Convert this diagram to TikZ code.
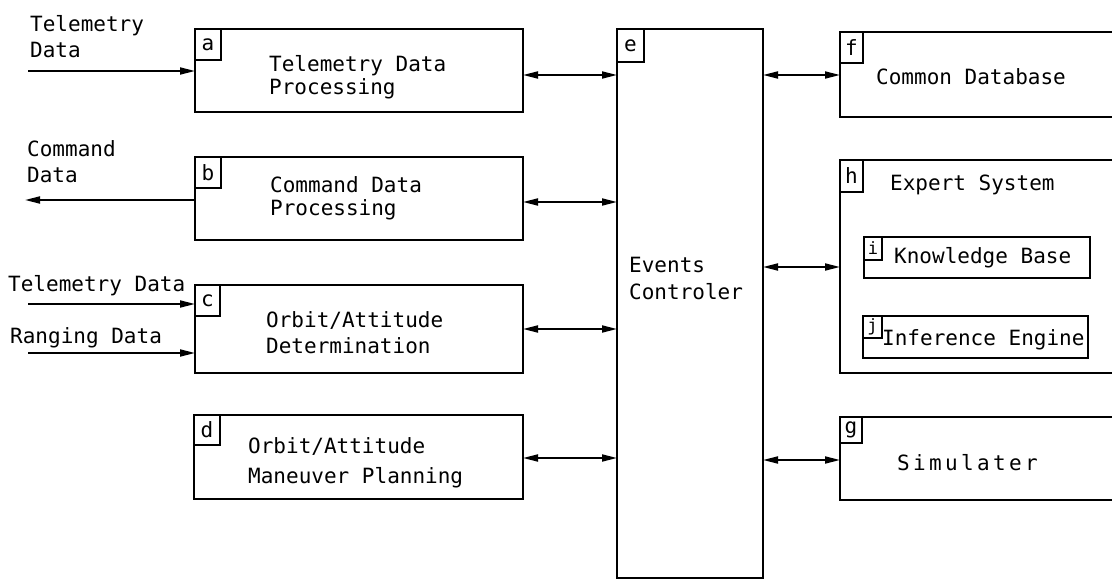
\documentclass[tikz,border=0pt]{standalone}
\usepackage{fontspec}
\newfontfamily\tw{DejaVu Sans Mono}
\newfontfamily\twsp[LetterSpace=16]{DejaVu Sans Mono}
\usetikzlibrary{arrows.meta}

\begin{document}
\begin{tikzpicture}[x=1pt,y=-1pt,
  box/.style={draw, line width=2.6pt, rectangle, anchor=north west,
    inner sep=0pt, outer sep=0pt},
  subbox/.style={box, line width=2.2pt},
  tag/.style={draw, line width=1.8pt, rectangle, anchor=north west,
    inner sep=0pt, outer sep=0pt, font=\tw\fontsize{21}{24}\selectfont},
  smalltag/.style={tag, line width=1.5pt, font=\tw\fontsize{17}{18}\selectfont},
  txt/.style={anchor=base west, inner sep=0pt, font=\tw\fontsize{21}{24}\selectfont},
  arr/.style={line width=1.8pt, -{Triangle[length=15pt,width=7pt]}},
  biarr/.style={line width=1.8pt,
    {Triangle[length=15pt,width=7pt]}-{Triangle[length=15pt,width=7pt]}}]

\useasboundingbox (0,0) rectangle (1112,580);
\clip (0,0) rectangle (1112,580);
\fill[white] (0,0) rectangle (1112,580);

% processing blocks on the left
\node[box, minimum width=328pt, minimum height=83pt] (a) at (195,29) {};
\node[tag, minimum width=26pt, minimum height=31pt] (la) at (195,29) {a};
\node[box, minimum width=328pt, minimum height=83pt] (b) at (195,157) {};
\node[tag, minimum width=26pt, minimum height=31pt] (lb) at (195,157) {b};
\node[box, minimum width=328pt, minimum height=88pt] (c) at (195,285) {};
\node[tag, minimum width=25pt, minimum height=31pt] (lc) at (195,285) {c};
\node[box, minimum width=329pt, minimum height=84pt] (d) at (194,415) {};
\node[tag, minimum width=26pt, minimum height=30pt] (ld) at (194,415) {d};

% central controller
\node[box, minimum width=146pt, minimum height=549pt] (e) at (617,29) {};
\node[tag, minimum width=27pt, minimum height=33pt] (le) at (617,29) {e};

% blocks on the right (open towards the page edge)
\node[box, minimum width=300pt, minimum height=85pt] (f) at (840,32) {};
\node[tag, minimum width=23pt, minimum height=31pt] (lf) at (840,32) {f};
\node[box, minimum width=300pt, minimum height=213pt] (h) at (840,160) {};
\node[tag, minimum width=23pt, minimum height=32pt] (lh) at (840,160) {h};
\node[subbox, minimum width=226pt, minimum height=41pt] (i) at (864,237) {};
\node[smalltag, minimum width=18pt, minimum height=23pt] (li) at (864,237) {i};
\node[subbox, minimum width=225pt, minimum height=42pt] (j) at (863,316) {};
\node[smalltag, minimum width=19pt, minimum height=22pt] (lj) at (863,316) {j};
\node[box, minimum width=300pt, minimum height=83pt] (g) at (840,417) {};
\node[tag, minimum width=22pt, minimum height=26pt] (lg) at (840,417) {g};

% texts
\node[txt] (tA1) at (30,32) {Telemetry};
\node[txt] (tA2) at (30,58) {Data};
\node[txt] (tB1) at (27,157) {Command};
\node[txt] (tB2) at (27,183) {Data};
\node[txt] (tC1) at (8,292) {Telemetry Data};
\node[txt] (tC2) at (10,344) {Ranging Data};

\node[txt] (xa1) at (269,72) {Telemetry Data};
\node[txt] (xa2) at (269,95) {Processing};
\node[txt] (xb1) at (270,193) {Command Data};
\node[txt] (xb2) at (270,216) {Processing};
\node[txt] (xc1) at (266,327) {Orbit/Attitude};
\node[txt] (xc2) at (266,353) {Determination};
\node[txt] (xd1) at (248,453) {Orbit/Attitude};
\node[txt] (xd2) at (248,483) {Maneuver Planning};
\node[txt] (xe1) at (629,273) {Events};
\node[txt] (xe2) at (629,300) {Controler};
\node[txt] (xf) at (876,85) {Common Database};
\node[txt] (xh) at (890,191) {Expert System};
\node[txt] (xi) at (894,264) {Knowledge Base};
\node[txt] (xj) at (882,345) {Inference Engine};
\node[txt, font=\twsp\fontsize{21}{24}\selectfont] (xg) at (897,470) {Simulater};

% external data lines
\coordinate (inA) at (28,71);
\coordinate (outB) at (25,200);
\coordinate (inC1) at (28,304);
\coordinate (inC2) at (28,353);
\draw[arr] (inA) -- (inA -| a.west);
\draw[arr] (outB -| b.west) -- (outB);
\draw[arr] (inC1) -- (inC1 -| c.west);
\draw[arr] (inC2) -- (inC2 -| c.west);

% links to the controller
\draw[biarr] (a.east |- 0,75) -- (e.west |- 0,75);
\draw[biarr] (b.east |- 0,202) -- (e.west |- 0,202);
\draw[biarr] (c.east |- 0,329) -- (e.west |- 0,329);
\draw[biarr] (d.east |- 0,458) -- (e.west |- 0,458);
\draw[biarr] (e.east |- 0,75) -- (f.west |- 0,75);
\draw[biarr] (e.east |- 0,267) -- (h.west |- 0,267);
\draw[biarr] (e.east |- 0,460) -- (g.west |- 0,460);
\end{tikzpicture}
\end{document}
